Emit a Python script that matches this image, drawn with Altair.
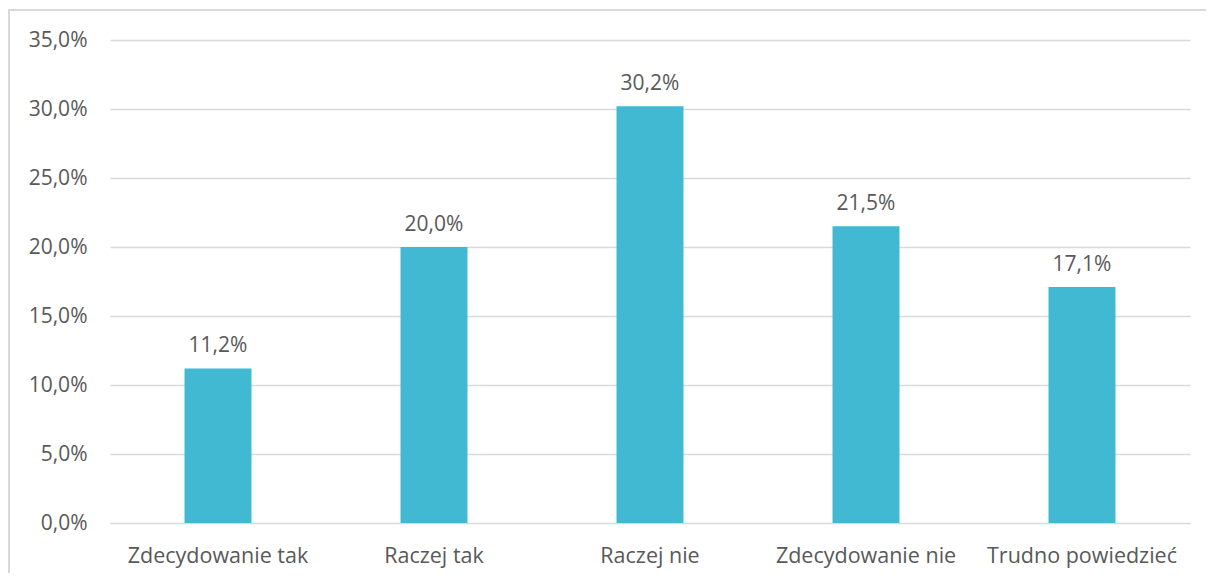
import altair as alt
import pandas as pd

categories = ["Zdecydowanie tak", "Raczej tak", "Raczej nie", "Zdecydowanie nie", "Trudno powiedzieć"]
values = [0.112, 0.200, 0.302, 0.215, 0.171]
y_ticks = [0, 0.05, 0.10, 0.15, 0.20, 0.25, 0.30, 0.35]

df = pd.DataFrame({"cat": categories, "val": values})

FONT = "Open Sans"
TXT = "#595959"
FS = 21

base = alt.Chart(df).transform_calculate(
    lbl="replace(format(datum.val, '.1%'), '.', ',')"
)

x_enc = alt.X(
    "cat:N",
    sort=categories,
    title=None,
    scale=alt.Scale(paddingInner=0.69, paddingOuter=0.345),
    axis=alt.Axis(labelAngle=0, labelFontSize=21.5, labelColor=TXT, labelFont=FONT,
                  labelPadding=22, ticks=False, domain=False, labelLimit=300),
)
y_enc = alt.Y(
    "val:Q",
    title=None,
    scale=alt.Scale(domain=[0, 0.35], nice=False),
    axis=alt.Axis(values=y_ticks, labelExpr="replace(format(datum.value, '.1%'), '.', ',')",
                  labelFontSize=FS, labelColor=TXT, labelFont=FONT, labelPadding=23,
                  ticks=False, domain=False, gridColor="#D9D9D9", gridWidth=1.5),
)

bars = base.mark_bar(color="#41B9D3").encode(x=x_enc, y=y_enc)
labels = base.mark_text(baseline="bottom", dy=-12, fontSize=FS, color=TXT, font=FONT).encode(
    x=alt.X("cat:N", sort=categories), y="val:Q", text="lbl:N"
)

border = alt.Chart(pd.DataFrame({"a": [0]})).mark_rect(
    fill=None, stroke="#D9D9D9", strokeWidth=2
).encode(
    x=alt.value(-101), x2=alt.value(1200), y=alt.value(-30), y2=alt.value(600)
)

chart = alt.layer(border, bars, labels).properties(
    width=1080, height=483,
    autosize=alt.AutoSizeParams(type="none"),
    padding={"left": 102, "top": 32, "right": 16, "bottom": 50},
).configure_view(stroke=None)

chart.save("out.html", embed_options={"renderer": "svg", "actions": False})
